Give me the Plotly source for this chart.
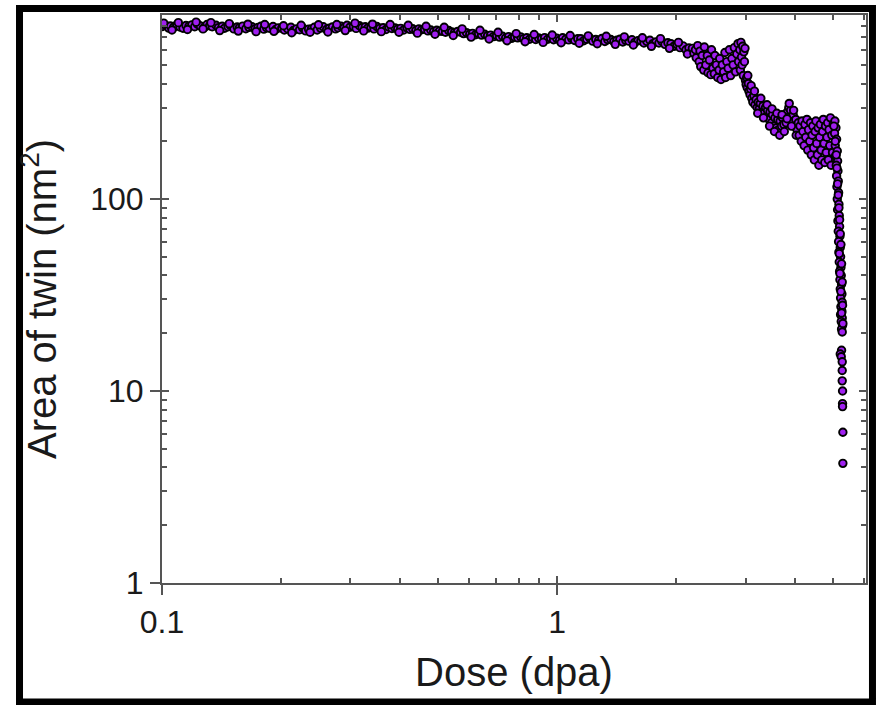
import plotly.graph_objects as go

# ---- data (dose in dpa, area in nm^2) ----
dose_flat = [
    0.100, 0.102, 0.104, 0.105, 0.107, 0.109, 0.111, 0.113, 0.115, 0.117,
    0.119, 0.121, 0.123, 0.125, 0.128, 0.130, 0.132, 0.134, 0.137, 0.139,
    0.142, 0.144, 0.147, 0.149, 0.152, 0.155, 0.157, 0.160, 0.163, 0.166,
    0.169, 0.172, 0.175, 0.178, 0.181, 0.184, 0.187, 0.191, 0.194, 0.197,
    0.201, 0.204, 0.208, 0.212, 0.215, 0.219, 0.223, 0.227, 0.231, 0.235,
    0.239, 0.243, 0.247, 0.252, 0.256, 0.261, 0.265, 0.270, 0.275, 0.279,
    0.284, 0.289, 0.294, 0.299, 0.305, 0.310, 0.316, 0.321, 0.327, 0.332,
    0.338, 0.344, 0.350, 0.356, 0.363, 0.369, 0.375, 0.382, 0.389, 0.395,
    0.402, 0.409, 0.417, 0.424, 0.431, 0.439, 0.447, 0.454, 0.462, 0.471,
    0.479, 0.487, 0.496, 0.504, 0.513, 0.522, 0.532, 0.541, 0.550, 0.560,
    0.570, 0.580, 0.590, 0.601, 0.611, 0.622, 0.633, 0.644, 0.656, 0.667,
    0.679, 0.691, 0.703, 0.715, 0.728, 0.741, 0.754, 0.767, 0.781, 0.795,
    0.809, 0.823, 0.838, 0.852, 0.867, 0.883, 0.898, 0.914, 0.930, 0.947,
    0.963, 0.980, 0.998, 1.015, 1.033, 1.052, 1.070, 1.089, 1.108, 1.128,
    1.148, 1.168, 1.189, 1.210, 1.231, 1.253, 1.275, 1.298, 1.321, 1.344,
    1.368, 1.392, 1.417, 1.442, 1.467, 1.493, 1.520, 1.547, 1.574, 1.602,
    1.630, 1.659, 1.688, 1.718, 1.748, 1.779, 1.811, 1.843, 1.875, 1.908,
    1.942, 1.976, 2.011, 2.047, 2.083, 2.120, 2.157, 2.195,
]
area_flat = [
    792, 805, 778, 798, 785, 810, 788, 776, 802, 795,
    808, 790, 815, 798, 785, 812, 800, 790, 805, 782,
    795, 776, 790, 802, 770, 788, 780, 796, 772, 785,
    790, 770, 784, 795, 768, 781, 776, 792, 765, 780,
    778, 760, 772, 785, 755, 770, 762, 780, 752, 768,
    770, 785, 760, 778, 790, 765, 776, 788, 770, 782,
    795, 780, 805, 786, 792, 775, 800, 783, 790, 778,
    785, 770, 792, 776, 781, 765, 788, 774, 780, 768,
    775, 760, 780, 766, 772, 755, 770, 762, 768, 752,
    760, 745, 758, 750, 748, 740, 755, 742, 738, 746,
    740, 728, 736, 722, 730, 718, 728, 715, 722, 710,
    715, 702, 712, 698, 705, 690, 702, 688, 698, 692,
    700, 685, 692, 680, 695, 678, 690, 683, 694, 680,
    690, 676, 688, 672, 692, 680, 675, 688, 670, 684,
    684, 668, 680, 690, 665, 678, 672, 686, 662, 676,
    678, 662, 672, 680, 658, 670, 665, 676, 655, 668,
    668, 650, 662, 672, 645, 658, 650, 662, 640, 652,
    645, 625, 638, 615, 628, 600, 612, 585,
]

dose_flat_b = [
    0.101, 0.106, 0.110, 0.116, 0.122, 0.127, 0.133, 0.140, 0.148, 0.156,
    0.165, 0.173, 0.182, 0.192, 0.203, 0.213, 0.225, 0.237, 0.249, 0.263,
    0.277, 0.291, 0.308, 0.324, 0.341, 0.359, 0.378, 0.398, 0.420, 0.443,
    0.466, 0.491, 0.518, 0.546, 0.575, 0.606, 0.638, 0.673, 0.709, 0.747,
    0.788, 0.830, 0.875, 0.922, 0.972, 1.024, 1.079, 1.138, 1.199, 1.264,
    1.332, 1.404, 1.480, 1.560, 1.644, 1.733, 1.827, 1.925, 2.029, 2.138,
]
area_flat_b = [
    825, 760, 830, 765, 835, 770, 830, 755, 820, 750,
    815, 745, 812, 748, 800, 735, 805, 740, 810, 742,
    812, 755, 825, 752, 815, 745, 812, 740, 805, 732,
    795, 722, 785, 712, 770, 698, 758, 682, 740, 668,
    728, 660, 720, 655, 716, 652, 712, 648, 708, 645,
    705, 640, 700, 635, 692, 625, 685, 610, 655, 570,
]

dose_cluster = [
    2.20, 2.22, 2.24, 2.25, 2.27, 2.29, 2.30, 2.31, 2.33, 2.35,
    2.36, 2.38, 2.40, 2.41, 2.43, 2.45, 2.46, 2.48, 2.50, 2.51,
    2.53, 2.55, 2.57, 2.58, 2.60, 2.62, 2.64, 2.66, 2.67, 2.69,
    2.71, 2.73, 2.75, 2.77, 2.79, 2.81, 2.83, 2.85, 2.87, 2.88,
    2.90, 2.91, 2.92, 2.93, 2.94, 2.95, 2.96, 2.97, 2.98, 2.99,
]
area_cluster = [
    610, 575, 600, 545, 630, 520, 590, 490, 560, 470,
    620, 500, 560, 455, 530, 445, 600, 480, 450, 560,
    500, 430, 470, 540, 420, 500, 460, 580, 430, 520,
    480, 600, 440, 540, 500, 615, 460, 570, 645, 520,
    600, 470, 655, 550, 500, 625, 440, 585, 520, 610,
]

dose_drop = [
    3.00, 3.01, 3.02, 3.03, 3.05, 3.06, 3.08, 3.09, 3.11, 3.13,
    3.15, 3.17, 3.19, 3.21, 3.23, 3.25, 3.27, 3.30, 3.32, 3.34,
    3.37, 3.39, 3.41, 3.44, 3.46, 3.49, 3.51, 3.54, 3.56, 3.59,
    3.62, 3.64, 3.67, 3.70, 3.72, 3.75, 3.78, 3.80, 3.83, 3.86,
    3.88, 3.90, 3.93, 3.96, 3.99, 4.02, 4.05,
    3.04, 3.10, 3.16, 3.22, 3.28, 3.33, 3.40, 3.45, 3.50, 3.55,
    3.60, 3.66, 3.71, 3.76, 3.82, 3.87, 3.92, 3.97, 4.03,
]
area_drop = [
    415, 395, 430, 380, 400, 365, 350, 375, 335, 320,
    345, 310, 330, 300, 320, 295, 315, 285, 305, 280,
    300, 270, 290, 260, 285, 250, 275, 240, 265, 235,
    260, 230, 255, 240, 265, 245, 275, 250, 285, 300,
    270, 290, 255, 275, 240, 260, 230,
    440, 390, 365, 280, 335, 265, 310, 240, 295, 225,
    280, 215, 275, 225, 262, 315, 240, 290, 215,
]

dose_band = [
    4.08, 4.10, 4.12, 4.15, 4.17, 4.19, 4.22, 4.24, 4.26, 4.29,
    4.31, 4.33, 4.36, 4.38, 4.40, 4.42, 4.44, 4.46, 4.48, 4.50,
    4.52, 4.54, 4.56, 4.58, 4.60, 4.62, 4.64, 4.66, 4.68, 4.70,
    4.72, 4.74, 4.76, 4.78, 4.80, 4.82, 4.84, 4.86, 4.88, 4.90,
    4.92, 4.94, 4.96, 4.98, 5.00,
]
area_band = [
    250, 215, 240, 200, 255, 225, 190, 245, 210, 260,
    180, 230, 200, 250, 170, 215, 240, 185, 160, 225,
    255, 195, 170, 235, 150, 210, 245, 180, 160, 225,
    260, 195, 155, 240, 175, 210, 250, 160, 230, 190,
    265, 150, 215, 175, 245,
]

dose_column = [
    5.05, 5.08, 5.04, 5.10, 5.06, 5.12, 5.07, 5.13, 5.09, 5.14,
    5.10, 5.15, 5.11, 5.16, 5.12, 5.17, 5.13, 5.18, 5.14, 5.19,
    5.15, 5.20, 5.16, 5.21, 5.17, 5.22, 5.18, 5.23, 5.19, 5.24,
    5.20, 5.25, 5.21, 5.26, 5.22, 5.27, 5.23, 5.26, 5.22, 5.27,
    5.24, 5.28, 5.25, 5.27,
    5.02, 5.06, 5.09, 5.11, 5.13, 5.15, 5.17, 5.19, 5.21, 5.23,
    5.18, 5.25, 5.20, 5.27, 5.23, 5.28, 5.25, 5.29,
    5.25, 5.21, 5.24, 5.27, 5.27, 5.27, 5.28, 5.28, 5.28, 5.29, 5.29,
]
area_column = [
    255, 235, 220, 205, 190, 178, 168, 158, 150, 140,
    132, 124, 116, 108, 100, 94, 88, 82, 77, 72,
    68, 64, 60, 56, 53, 50, 47, 44, 42, 40,
    38, 36, 34, 32, 30.5, 29, 27.5, 26, 25, 24,
    23, 22, 21, 20.3,
    240, 200, 170, 145, 120, 105, 90, 78, 66, 58,
    52, 46, 41, 37, 33, 28, 25.5, 22.5,
    16.3, 15.6, 15.1, 14.2, 12.8, 11.3, 10.0, 8.6, 8.3, 6.1, 4.2,
]

x_ticks = [0.1, 1]
x_ticktext = ["0.1", "1"]
x_minor = [0.2, 0.3, 0.4, 0.5, 0.6, 0.7, 0.8, 0.9, 2, 3, 4, 5, 6]
y_ticks = [1, 10, 100]
y_ticktext = ["1", "10", "100"]
y_minor = [2, 3, 4, 5, 6, 7, 8, 9, 20, 30, 40, 50, 60, 70, 80, 90,
           200, 300, 400, 500, 600, 700, 800, 900]

dose = dose_flat + dose_flat_b + dose_cluster + dose_drop + dose_band + dose_column
area = area_flat + area_flat_b + area_cluster + area_drop + area_band + area_column

AX = "#555555"
TXT = "#1a1a1a"
FONT = "Liberation Sans, Arial, sans-serif"

fig = go.Figure()
fig.add_trace(go.Scatter(
    x=dose, y=area, mode="markers",
    marker=dict(size=7.5, color="#a020f0", line=dict(color="black", width=1.9)),
    showlegend=False, hoverinfo="skip",
))
# empty trace so the inside-tick overlay axes exist
fig.add_trace(go.Scatter(x=[], y=[], xaxis="x2", yaxis="y2", showlegend=False))

xr = [-1, 0.782]
yr = [0, 2.959]

fig.update_layout(
    width=883, height=705,
    margin=dict(l=162, r=17, t=15, b=122),
    paper_bgcolor="white", plot_bgcolor="white",
    font=dict(family=FONT, color=TXT),
    xaxis=dict(
        type="log", range=xr, tickvals=x_ticks, ticktext=x_ticktext,
        ticks="outside", ticklen=10, tickwidth=2, tickcolor=AX,
        showline=True, linecolor=AX, linewidth=2, mirror=True,
        showgrid=False, zeroline=False,
        tickfont=dict(size=32, family=FONT, color=TXT),
        title=dict(text="Dose (dpa)", font=dict(size=40, family=FONT, color=TXT), standoff=19),
    ),
    yaxis=dict(
        type="log", range=yr, tickvals=y_ticks, ticktext=y_ticktext,
        ticks="outside", ticklen=10, tickwidth=2, tickcolor=AX,
        showline=True, linecolor=AX, linewidth=2, mirror=True,
        showgrid=False, zeroline=False,
        tickfont=dict(size=32, family=FONT, color=TXT),
        title=dict(text="Area of twin (nm<sup>2</sup>)", font=dict(size=40, family=FONT, color=TXT), standoff=21),
    ),
    xaxis2=dict(
        type="log", range=xr, overlaying="x", anchor="y", side="bottom",
        tickvals=x_ticks, ticks="inside", ticklen=7, tickwidth=2, tickcolor=AX,
        showticklabels=False, showline=True, linecolor=AX, linewidth=2,
        mirror="allticks", showgrid=False, zeroline=False,
        minor=dict(tickvals=x_minor, ticks="inside", ticklen=5, tickwidth=2,
                   tickcolor=AX, showgrid=False),
    ),
    yaxis2=dict(
        type="log", range=yr, overlaying="y", anchor="x", side="left",
        tickvals=y_ticks, ticks="inside", ticklen=7, tickwidth=2, tickcolor=AX,
        showticklabels=False, showline=True, linecolor=AX, linewidth=2,
        mirror="allticks", showgrid=False, zeroline=False,
        minor=dict(tickvals=y_minor, ticks="inside", ticklen=5, tickwidth=2,
                   tickcolor=AX, showgrid=False),
    ),
    shapes=[dict(
        type="rect", xref="paper", yref="paper",
        x0=-0.2024, x1=1.0092, y0=-0.2095, y1=1.0114,
        line=dict(color="black", width=7), layer="above",
    )],
)

fig.write_html("out.html")
